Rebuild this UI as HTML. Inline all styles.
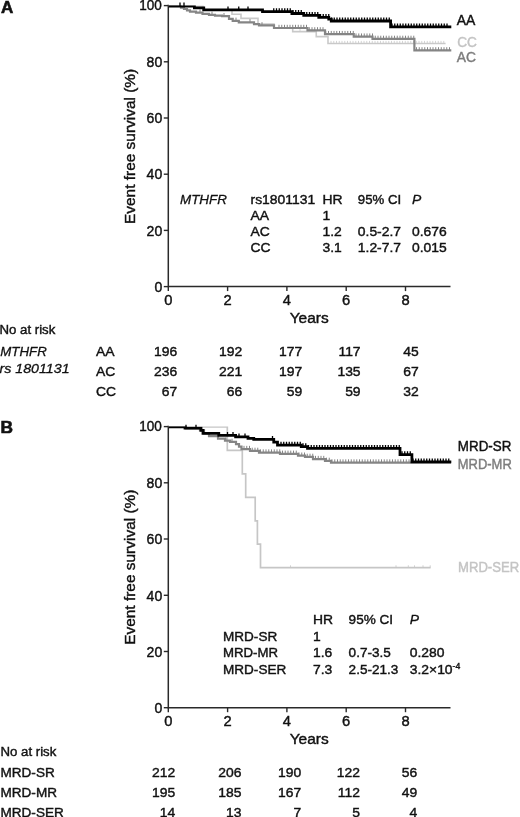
<!DOCTYPE html>
<html><head><meta charset="utf-8"><title>Figure</title>
<style>
html,body{margin:0;padding:0;background:#fff;}
body{width:520px;height:817px;overflow:hidden;}
svg{display:block;}
text{font-family:"Liberation Sans", Arial, sans-serif;fill:#111;stroke:#111;stroke-width:0.42px;}
.t{font-size:13.7px;}
.ax{font-size:14.5px;}
.lab{font-size:15.2px;}
.cl{font-size:14.1px;}
.pan{font-size:17px;font-weight:bold;stroke-width:0.6px;}
.i{font-style:italic;stroke-width:0.3px;}
</style></head><body>
<svg width="520" height="817" viewBox="0 0 520 817">
<rect width="520" height="817" fill="#fff"/>
<path d="M168.3 4.8V286.6H450.5" fill="none" stroke="#2a2a2a" stroke-width="1.5"/>
<path d="M168.3 286.6v4.5" stroke="#2a2a2a" stroke-width="1.4"/>
<path d="M227.6 286.6v4.5" stroke="#2a2a2a" stroke-width="1.4"/>
<path d="M286.9 286.6v4.5" stroke="#2a2a2a" stroke-width="1.4"/>
<path d="M346.2 286.6v4.5" stroke="#2a2a2a" stroke-width="1.4"/>
<path d="M405.5 286.6v4.5" stroke="#2a2a2a" stroke-width="1.4"/>
<path d="M168.3 286.6h-4.5" stroke="#2a2a2a" stroke-width="1.4"/>
<path d="M168.3 230.4h-4.5" stroke="#2a2a2a" stroke-width="1.4"/>
<path d="M168.3 174.2h-4.5" stroke="#2a2a2a" stroke-width="1.4"/>
<path d="M168.3 118.0h-4.5" stroke="#2a2a2a" stroke-width="1.4"/>
<path d="M168.3 61.8h-4.5" stroke="#2a2a2a" stroke-width="1.4"/>
<path d="M168.3 5.6h-4.5" stroke="#2a2a2a" stroke-width="1.4"/>
<text class="ax" transform="translate(162.2,291.8) scale(0.97,1)" text-anchor="end">0</text>
<text class="ax" transform="translate(162.2,235.6) scale(0.97,1)" text-anchor="end">20</text>
<text class="ax" transform="translate(162.2,179.39999999999998) scale(0.97,1)" text-anchor="end">40</text>
<text class="ax" transform="translate(162.2,123.2) scale(0.97,1)" text-anchor="end">60</text>
<text class="ax" transform="translate(162.2,67.0) scale(0.97,1)" text-anchor="end">80</text>
<text class="ax" transform="translate(161.9,9.8) scale(0.935,1)" text-anchor="end">100</text>
<text class="ax" transform="translate(168.3,304.8) scale(1.015,1)" text-anchor="middle">0</text>
<text class="ax" transform="translate(227.6,304.8) scale(1.015,1)" text-anchor="middle">2</text>
<text class="ax" transform="translate(286.9,304.8) scale(1.015,1)" text-anchor="middle">4</text>
<text class="ax" transform="translate(346.2,304.8) scale(1.015,1)" text-anchor="middle">6</text>
<text class="ax" transform="translate(405.5,304.8) scale(1.015,1)" text-anchor="middle">8</text>
<text class="lab" transform="translate(309.2,323) scale(1.02,1)" text-anchor="middle">Years</text>
<text class="lab" style="font-size:15.45px" transform="translate(135.0,146.4) rotate(-90)" text-anchor="middle">Event free survival (%)</text>
<text class="pan" transform="translate(0.9,13.4)" text-anchor="start">A</text>
<clipPath id="ca"><rect x="160" y="5.1" width="300" height="300"/></clipPath>
<g transform="translate(0,0.4)">
<path d="M168.3 5.6V5.6H203V9.8H232V13.9H241V18H258V23.6H274V27.6H292.7V31.2H316.25V36.25H328V43.1H445.6" fill="none" stroke="#c9c9c9" stroke-width="1.6" stroke-linejoin="miter" clip-path="url(#ca)"/><path d="M300 31.2v-2.6M310 31.2v-2.6M331 43.1v-2.6M333.75 43.1v-2.6M336.5 43.1v-2.6M339.25 43.1v-2.6M342.0 43.1v-2.6M344.75 43.1v-2.6M347.5 43.1v-2.6M350.25 43.1v-2.6M353.0 43.1v-2.6M355.75 43.1v-2.6M358.5 43.1v-2.6M361.25 43.1v-2.6M364.0 43.1v-2.6M366.75 43.1v-2.6M369.5 43.1v-2.6M372.25 43.1v-2.6M375.0 43.1v-2.6M377.75 43.1v-2.6M380.5 43.1v-2.6M383.25 43.1v-2.6M386.0 43.1v-2.6M388.75 43.1v-2.6M391.5 43.1v-2.6M394.25 43.1v-2.6M397.0 43.1v-2.6M399.75 43.1v-2.6M402.5 43.1v-2.6M405.25 43.1v-2.6M408.0 43.1v-2.6M410.75 43.1v-2.6M413.5 43.1v-2.6M416.25 43.1v-2.6M419.0 43.1v-2.6M421.75 43.1v-2.6M424.5 43.1v-2.6M427.25 43.1v-2.6M430.0 43.1v-2.6M432.75 43.1v-2.6M435.5 43.1v-2.6M438.25 43.1v-2.6M441.0 43.1v-2.6M443.75 43.1v-2.6" fill="none" stroke="#c9c9c9" stroke-width="0.8"/>
<path d="M168.3 5.6V5.6H181V7.2H184V8.6H187V10H190V11.2H196V12.3H202.5V13.4H209V14.4H215V15.2H222V15.8H229V18.5H232.7V20.4H238.8V21.9H254V23.8H259V25H274V27.6H307.5V30H325V33.75H353.75V36.25H372.5V38.5H414.4V50H451.3" fill="none" stroke="#858585" stroke-width="2.2" stroke-linejoin="miter" clip-path="url(#ca)"/><path d="M200 12.3v-3.2M212 14.4v-3.2M224 15.8v-3.2M236 20.4v-3.2M250 21.9v-3.2M262 25.0v-3.2M279 27.6v-3.2M281.75 27.6v-3.2M284.5 27.6v-3.2M287.25 27.6v-3.2M290.0 27.6v-3.2M292.75 27.6v-3.2M295.5 27.6v-3.2M298.25 27.6v-3.2M301.0 27.6v-3.2M303.75 27.6v-3.2M306.5 27.6v-3.2M309.25 30.0v-3.2M312.0 30.0v-3.2M314.75 30.0v-3.2M317.5 30.0v-3.2M320.25 30.0v-3.2M323.0 30.0v-3.2M325.75 33.75v-3.2M328.5 33.75v-3.2M331.25 33.75v-3.2M334.0 33.75v-3.2M336.75 33.75v-3.2M339.5 33.75v-3.2M342.25 33.75v-3.2M345.0 33.75v-3.2M347.75 33.75v-3.2M350.5 33.75v-3.2M353.25 33.75v-3.2M356.0 36.25v-3.2M358.75 36.25v-3.2M361.5 36.25v-3.2M364.25 36.25v-3.2M367.0 36.25v-3.2M369.75 36.25v-3.2M372.5 36.25v-3.2M375.25 38.5v-3.2M378.0 38.5v-3.2M380.75 38.5v-3.2M383.5 38.5v-3.2M386.25 38.5v-3.2M389.0 38.5v-3.2M391.75 38.5v-3.2M394.5 38.5v-3.2M397.25 38.5v-3.2M400.0 38.5v-3.2M402.75 38.5v-3.2M405.5 38.5v-3.2M408.25 38.5v-3.2M411.0 38.5v-3.2M413.75 38.5v-3.2M416.5 50.0v-3.2M419.25 50.0v-3.2M422.0 50.0v-3.2M424.75 50.0v-3.2M427.5 50.0v-3.2M430.25 50.0v-3.2M433.0 50.0v-3.2M435.75 50.0v-3.2M438.5 50.0v-3.2M441.25 50.0v-3.2M444.0 50.0v-3.2M446.75 50.0v-3.2M449.5 50.0v-3.2" fill="none" stroke="#858585" stroke-width="1.0"/>
<path d="M168.3 5.6V5.6H194.4V7.5H203.75V9.4H262.5V11.25H291.9V13.1H303.75V15H318.75V16.9H328.75V18.75H331.25V20.6H390.6V26.5H451.3" fill="none" stroke="#000" stroke-width="2.8" stroke-linejoin="miter" clip-path="url(#ca)"/><path d="M180 5.6v-3.4M184 5.6v-3.4M228 9.4v-3.4M238.75 9.4v-3.4M248 9.4v-3.4M273.75 11.25v-3.4M276.5 11.25v-3.4M279.25 11.25v-3.4M282.0 11.25v-3.4M284.75 11.25v-3.4M287.5 11.25v-3.4M290.25 11.25v-3.4M293.0 13.1v-3.4M295.75 13.1v-3.4M298.5 13.1v-3.4M301.25 13.1v-3.4M304.0 15.0v-3.4M306.75 15.0v-3.4M309.5 15.0v-3.4M312.25 15.0v-3.4M315.0 15.0v-3.4M317.75 15.0v-3.4M320.5 16.9v-3.4M323.25 16.9v-3.4M326.0 16.9v-3.4M328.75 16.9v-3.4M331.5 20.6v-3.4M334.25 20.6v-3.4M337.0 20.6v-3.4M339.75 20.6v-3.4M342.5 20.6v-3.4M345.25 20.6v-3.4M348.0 20.6v-3.4M350.75 20.6v-3.4M353.5 20.6v-3.4M356.25 20.6v-3.4M359.0 20.6v-3.4M361.75 20.6v-3.4M364.5 20.6v-3.4M367.25 20.6v-3.4M370.0 20.6v-3.4M372.75 20.6v-3.4M375.5 20.6v-3.4M378.25 20.6v-3.4M381.0 20.6v-3.4M383.75 20.6v-3.4M386.5 20.6v-3.4M389.25 20.6v-3.4M392.0 26.5v-3.4M394.75 26.5v-3.4M397.5 26.5v-3.4M400.25 26.5v-3.4M403.0 26.5v-3.4M405.75 26.5v-3.4M408.5 26.5v-3.4M411.25 26.5v-3.4M414.0 26.5v-3.4M416.75 26.5v-3.4M419.5 26.5v-3.4M422.25 26.5v-3.4M425.0 26.5v-3.4M427.75 26.5v-3.4M430.5 26.5v-3.4M433.25 26.5v-3.4M436.0 26.5v-3.4M438.75 26.5v-3.4M441.5 26.5v-3.4M444.25 26.5v-3.4M447.0 26.5v-3.4" fill="none" stroke="#000" stroke-width="1.3"/>
</g>
<text class="cl" transform="translate(456.8,24.7) scale(0.99,1)" text-anchor="start" stroke-width="0.7">AA</text>
<text class="cl" transform="translate(457.2,46.8) scale(0.97,1)" text-anchor="start" style="fill:#c4c4c4;stroke:#c4c4c4">CC</text>
<text class="cl" transform="translate(456.8,61.8) scale(0.98,1)" text-anchor="start" style="fill:#7d7d7d;stroke:#7d7d7d">AC</text>
<text class="t i" transform="translate(180,204) scale(0.98,1)" text-anchor="start">MTHFR</text>
<text class="t" transform="translate(250.5,204) scale(1.015,1)" text-anchor="start">rs1801131</text>
<text class="t" transform="translate(322.5,204) scale(1.015,1)" text-anchor="start">HR</text>
<text class="t" transform="translate(357.8,204) scale(0.965,1)" text-anchor="start">95% CI</text>
<text class="t i" transform="translate(412,204) scale(1.015,1)" text-anchor="start">P</text>
<text class="t" transform="translate(250.5,220) scale(1.015,1)" text-anchor="start">AA</text>
<text class="t" transform="translate(322.5,220) scale(1.015,1)" text-anchor="start">1</text>
<text class="t" transform="translate(250.5,236) scale(1.015,1)" text-anchor="start">AC</text>
<text class="t" transform="translate(322.5,236) scale(1.015,1)" text-anchor="start">1.2</text>
<text class="t" transform="translate(357.8,236) scale(1.015,1)" text-anchor="start">0.5-2.7</text>
<text class="t" transform="translate(412,236) scale(1.015,1)" text-anchor="start">0.676</text>
<text class="t" transform="translate(250.5,252) scale(1.015,1)" text-anchor="start">CC</text>
<text class="t" transform="translate(322.5,252) scale(1.015,1)" text-anchor="start">3.1</text>
<text class="t" transform="translate(357.8,252) scale(1.015,1)" text-anchor="start">1.2-7.7</text>
<text class="t" transform="translate(412,252) scale(1.015,1)" text-anchor="start">0.015</text>
<text class="t" transform="translate(-0.5,334.4) scale(0.965,1)" text-anchor="start">No at risk</text>
<text class="t i" transform="translate(0.3,355.5) scale(0.97,1)" text-anchor="start">MTHFR</text>
<text class="t i" transform="translate(-0.6,372.5) scale(1.04,1)" text-anchor="start">rs 1801131</text>
<text class="t" transform="translate(96,356.09999999999997) scale(1.015,1)" text-anchor="start">AA</text>
<text class="t" transform="translate(177.3,355.7) scale(1.015,1)" text-anchor="end">196</text>
<text class="t" transform="translate(242.3,355.7) scale(1.015,1)" text-anchor="end">192</text>
<text class="t" transform="translate(302.3,355.7) scale(1.015,1)" text-anchor="end">177</text>
<text class="t" transform="translate(360.6,355.7) scale(1.015,1)" text-anchor="end">117</text>
<text class="t" transform="translate(418.8,355.7) scale(1.015,1)" text-anchor="end">45</text>
<text class="t" transform="translate(96,375.6) scale(1.015,1)" text-anchor="start">AC</text>
<text class="t" transform="translate(177.3,375.6) scale(1.015,1)" text-anchor="end">236</text>
<text class="t" transform="translate(242.3,375.6) scale(1.015,1)" text-anchor="end">221</text>
<text class="t" transform="translate(302.3,375.6) scale(1.015,1)" text-anchor="end">197</text>
<text class="t" transform="translate(360.6,375.6) scale(1.015,1)" text-anchor="end">135</text>
<text class="t" transform="translate(418.8,375.6) scale(1.015,1)" text-anchor="end">67</text>
<text class="t" transform="translate(96,395.6) scale(1.015,1)" text-anchor="start">CC</text>
<text class="t" transform="translate(177.3,395.6) scale(1.015,1)" text-anchor="end">67</text>
<text class="t" transform="translate(242.3,395.6) scale(1.015,1)" text-anchor="end">66</text>
<text class="t" transform="translate(302.3,395.6) scale(1.015,1)" text-anchor="end">59</text>
<text class="t" transform="translate(360.6,395.6) scale(1.015,1)" text-anchor="end">59</text>
<text class="t" transform="translate(418.8,395.6) scale(1.015,1)" text-anchor="end">32</text>
<path d="M168.3 425.8V707.7H450.5" fill="none" stroke="#2a2a2a" stroke-width="1.5"/>
<path d="M168.3 707.7v4.5" stroke="#2a2a2a" stroke-width="1.4"/>
<path d="M227.6 707.7v4.5" stroke="#2a2a2a" stroke-width="1.4"/>
<path d="M286.9 707.7v4.5" stroke="#2a2a2a" stroke-width="1.4"/>
<path d="M346.2 707.7v4.5" stroke="#2a2a2a" stroke-width="1.4"/>
<path d="M405.5 707.7v4.5" stroke="#2a2a2a" stroke-width="1.4"/>
<path d="M168.3 707.7h-4.5" stroke="#2a2a2a" stroke-width="1.4"/>
<path d="M168.3 651.5h-4.5" stroke="#2a2a2a" stroke-width="1.4"/>
<path d="M168.3 595.3h-4.5" stroke="#2a2a2a" stroke-width="1.4"/>
<path d="M168.3 539.0h-4.5" stroke="#2a2a2a" stroke-width="1.4"/>
<path d="M168.3 482.8h-4.5" stroke="#2a2a2a" stroke-width="1.4"/>
<path d="M168.3 426.6h-4.5" stroke="#2a2a2a" stroke-width="1.4"/>
<text class="ax" transform="translate(162.2,712.9000000000001) scale(0.97,1)" text-anchor="end">0</text>
<text class="ax" transform="translate(162.2,656.7) scale(0.97,1)" text-anchor="end">20</text>
<text class="ax" transform="translate(162.2,600.5) scale(0.97,1)" text-anchor="end">40</text>
<text class="ax" transform="translate(162.2,544.2) scale(0.97,1)" text-anchor="end">60</text>
<text class="ax" transform="translate(162.2,488.0) scale(0.97,1)" text-anchor="end">80</text>
<text class="ax" transform="translate(161.9,430.8) scale(0.935,1)" text-anchor="end">100</text>
<text class="ax" transform="translate(168.3,726) scale(1.015,1)" text-anchor="middle">0</text>
<text class="ax" transform="translate(227.6,726) scale(1.015,1)" text-anchor="middle">2</text>
<text class="ax" transform="translate(286.9,726) scale(1.015,1)" text-anchor="middle">4</text>
<text class="ax" transform="translate(346.2,726) scale(1.015,1)" text-anchor="middle">6</text>
<text class="ax" transform="translate(405.5,726) scale(1.015,1)" text-anchor="middle">8</text>
<text class="lab" transform="translate(309.2,744) scale(1.02,1)" text-anchor="middle">Years</text>
<text class="lab" style="font-size:15.45px" transform="translate(135.0,567.2) rotate(-90)" text-anchor="middle">Event free survival (%)</text>
<text class="pan" transform="translate(0.4,433.0) scale(1.02,1)" text-anchor="start">B</text>
<clipPath id="cb"><rect x="160" y="426.1" width="300" height="300"/></clipPath>
<g transform="translate(0,0.3)">
<path d="M168.3 426.6V426.6H227.3V450.1H242.3V473.5H245.7V497H255.2V520.5H257.4V543.9H260.5V567.4H430.6" fill="none" stroke="#c6c6c6" stroke-width="1.7" stroke-linejoin="miter" clip-path="url(#cb)"/><path d="M290.5 567.4v-2.4M396 567.4v-2.4M408.3 567.4v-2.4M414.5 567.4v-2.4M423 567.4v-2.4M430.2 567.4v-2.4" fill="none" stroke="#c6c6c6" stroke-width="0.8"/>
<path d="M168.3 426.6V426.6H186V428.0H200V430H204V433H209V435.8H218V438.3H225V440.4H230V441.6H236V443.75H239V446.25H241.5V448.75H250V450.6H259V452.25H280V453.5H298V455.4H305V456.6H313V458.75H325V460.6H331V462.25H451" fill="none" stroke="#858585" stroke-width="2.2" stroke-linejoin="miter" clip-path="url(#cb)"/><path d="M226 440.4v-3.2M232 441.6v-3.2M244 448.75v-3.2M246.75 448.75v-3.2M249.5 448.75v-3.2M252.25 450.6v-3.2M255.0 450.6v-3.2M257.75 450.6v-3.2M260.5 452.25v-3.2M263.25 452.25v-3.2M266.0 452.25v-3.2M268.75 452.25v-3.2M271.5 452.25v-3.2M274.25 452.25v-3.2M277.0 452.25v-3.2M279.75 452.25v-3.2M282.5 453.5v-3.2M285.25 453.5v-3.2M288.0 453.5v-3.2M290.75 453.5v-3.2M293.5 453.5v-3.2M296.25 453.5v-3.2M299.0 455.4v-3.2M301.75 455.4v-3.2M304.5 455.4v-3.2M307.25 456.6v-3.2M310.0 456.6v-3.2M312.75 456.6v-3.2M315.5 458.75v-3.2M318.25 458.75v-3.2M321.0 458.75v-3.2M323.75 458.75v-3.2M326.5 460.6v-3.2M329.25 460.6v-3.2M332.0 462.25v-3.2M334.75 462.25v-3.2M337.5 462.25v-3.2M340.25 462.25v-3.2M343.0 462.25v-3.2M345.75 462.25v-3.2M348.5 462.25v-3.2M351.25 462.25v-3.2M354.0 462.25v-3.2M356.75 462.25v-3.2M359.5 462.25v-3.2M362.25 462.25v-3.2M365.0 462.25v-3.2M367.75 462.25v-3.2M370.5 462.25v-3.2M373.25 462.25v-3.2M376.0 462.25v-3.2M378.75 462.25v-3.2M381.5 462.25v-3.2M384.25 462.25v-3.2M387.0 462.25v-3.2M389.75 462.25v-3.2M392.5 462.25v-3.2M395.25 462.25v-3.2M398.0 462.25v-3.2M400.75 462.25v-3.2M403.5 462.25v-3.2M406.25 462.25v-3.2M409.0 462.25v-3.2" fill="none" stroke="#858585" stroke-width="1.0"/>
<path d="M168.3 426.6V426.6H185V427.9H201V430H203V433.1H218.75V435H235.6V436.5H248V438.1H253.75V439H273.75V441.9H277.5V444.75H301.25V446.25H307.5V448.1H400V454.4H411.9V461.5H451.3" fill="none" stroke="#000" stroke-width="2.8" stroke-linejoin="miter" clip-path="url(#cb)"/><path d="M186 427.9v-3.4M196 427.9v-3.4M227.5 435.0v-3.4M233 435.0v-3.4M239 436.5v-3.4M245 436.5v-3.4M272.5 439.0v-3.4M281 444.75v-3.4M283.75 444.75v-3.4M286.5 444.75v-3.4M289.25 444.75v-3.4M292.0 444.75v-3.4M294.75 444.75v-3.4M297.5 444.75v-3.4M300.25 444.75v-3.4M303.0 446.25v-3.4M305.75 446.25v-3.4M308.5 448.1v-3.4M311.25 448.1v-3.4M314.0 448.1v-3.4M316.75 448.1v-3.4M319.5 448.1v-3.4M322.25 448.1v-3.4M325.0 448.1v-3.4M327.75 448.1v-3.4M330.5 448.1v-3.4M333.25 448.1v-3.4M336.0 448.1v-3.4M338.75 448.1v-3.4M341.5 448.1v-3.4M344.25 448.1v-3.4M347.0 448.1v-3.4M349.75 448.1v-3.4M352.5 448.1v-3.4M355.25 448.1v-3.4M358.0 448.1v-3.4M360.75 448.1v-3.4M363.5 448.1v-3.4M366.25 448.1v-3.4M369.0 448.1v-3.4M371.75 448.1v-3.4M374.5 448.1v-3.4M377.25 448.1v-3.4M380.0 448.1v-3.4M382.75 448.1v-3.4M385.5 448.1v-3.4M388.25 448.1v-3.4M391.0 448.1v-3.4M393.75 448.1v-3.4M396.5 448.1v-3.4M399.25 448.1v-3.4M402.0 454.4v-3.4M404.75 454.4v-3.4M407.5 454.4v-3.4M410.25 454.4v-3.4M413.0 461.5v-3.4M415.75 461.5v-3.4M418.5 461.5v-3.4M421.25 461.5v-3.4M424.0 461.5v-3.4M426.75 461.5v-3.4M429.5 461.5v-3.4M432.25 461.5v-3.4M435.0 461.5v-3.4M437.75 461.5v-3.4M440.5 461.5v-3.4M443.25 461.5v-3.4M446.0 461.5v-3.4M448.75 461.5v-3.4" fill="none" stroke="#000" stroke-width="1.3"/>
</g>
<text class="cl" transform="translate(457.8,451.2) scale(0.95,1)" text-anchor="start" stroke-width="0.7">MRD-SR</text>
<text class="cl" transform="translate(457.8,468.5) scale(0.92,1)" text-anchor="start" style="fill:#7d7d7d;stroke:#7d7d7d">MRD-MR</text>
<text class="cl" transform="translate(458,572) scale(0.93,1)" text-anchor="start" style="fill:#c4c4c4;stroke:#c4c4c4">MRD-SER</text>
<text class="t" transform="translate(313,624.3) scale(1.015,1)" text-anchor="start">HR</text>
<text class="t" transform="translate(348.6,624.3) scale(0.99,1)" text-anchor="start">95% CI</text>
<text class="t i" transform="translate(409.7,624.3) scale(1.015,1)" text-anchor="start">P</text>
<text class="t" transform="translate(223,640.8) scale(0.99,1)" text-anchor="start">MRD-SR</text>
<text class="t" transform="translate(313,640.8) scale(1.015,1)" text-anchor="start">1</text>
<text class="t" transform="translate(223,656.8) scale(0.965,1)" text-anchor="start">MRD-MR</text>
<text class="t" transform="translate(313,656.8) scale(1.015,1)" text-anchor="start">1.6</text>
<text class="t" transform="translate(348.6,656.8) scale(0.99,1)" text-anchor="start">0.7-3.5</text>
<text class="t" transform="translate(409.7,656.8) scale(1.015,1)" text-anchor="start">0.280</text>
<text class="t" transform="translate(223,673.8) scale(0.99,1)" text-anchor="start">MRD-SER</text>
<text class="t" transform="translate(313,673.8) scale(1.015,1)" text-anchor="start">7.3</text>
<text class="t" transform="translate(348.6,673.8) scale(0.99,1)" text-anchor="start">2.5-21.3</text>
<text class="t" transform="translate(409.7,673.8) scale(1.015,1)" text-anchor="start">3.2×10<tspan dy="-5" font-size="8.5">-4</tspan></text>
<text class="t" transform="translate(0.5,756.2) scale(0.965,1)" text-anchor="start">No at risk</text>
<text class="t" transform="translate(0.5,777.2) scale(0.99,1)" text-anchor="start">MRD-SR</text>
<text class="t" transform="translate(175.3,777.2) scale(1.015,1)" text-anchor="end">212</text>
<text class="t" transform="translate(241.4,777.2) scale(1.015,1)" text-anchor="end">206</text>
<text class="t" transform="translate(301.3,777.2) scale(1.015,1)" text-anchor="end">190</text>
<text class="t" transform="translate(359.9,777.2) scale(1.015,1)" text-anchor="end">122</text>
<text class="t" transform="translate(417.3,777.2) scale(1.015,1)" text-anchor="end">56</text>
<text class="t" transform="translate(0.5,796.6) scale(0.99,1)" text-anchor="start">MRD-MR</text>
<text class="t" transform="translate(175.3,796.6) scale(1.015,1)" text-anchor="end">195</text>
<text class="t" transform="translate(241.4,796.6) scale(1.015,1)" text-anchor="end">185</text>
<text class="t" transform="translate(301.3,796.6) scale(1.015,1)" text-anchor="end">167</text>
<text class="t" transform="translate(359.9,796.6) scale(1.015,1)" text-anchor="end">112</text>
<text class="t" transform="translate(417.3,796.6) scale(1.015,1)" text-anchor="end">49</text>
<text class="t" transform="translate(0.5,816.7) scale(0.99,1)" text-anchor="start">MRD-SER</text>
<text class="t" transform="translate(175.3,816.7) scale(1.015,1)" text-anchor="end">14</text>
<text class="t" transform="translate(241.4,816.7) scale(1.015,1)" text-anchor="end">13</text>
<text class="t" transform="translate(301.3,816.7) scale(1.015,1)" text-anchor="end">7</text>
<text class="t" transform="translate(359.9,816.7) scale(1.015,1)" text-anchor="end">5</text>
<text class="t" transform="translate(417.3,816.7) scale(1.015,1)" text-anchor="end">4</text>
</svg>
</body></html>
